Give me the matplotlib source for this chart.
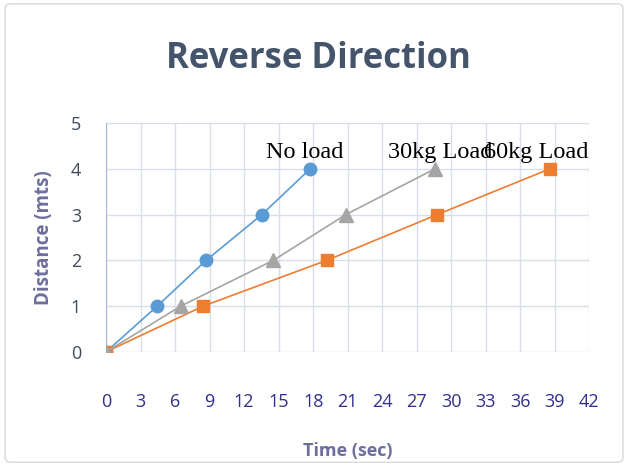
import numpy as np
import matplotlib
matplotlib.use("Agg")
from matplotlib import pyplot as plt
from matplotlib.patches import FancyBboxPatch

#-------------------------------------------------------------
# data
t_noload = [0, 4.45, 8.7, 13.55, 17.75]
d_noload = [0, 1, 2, 3, 4]
t_30kg = [0, 6.5, 14.55, 20.85, 28.6]
d_30kg = [0, 1, 2, 3, 4]
t_60kg = [0, 8.45, 19.2, 28.8, 38.6]
d_60kg = [0, 1, 2, 3, 4]

x_ticks = list(range(0, 43, 3))
y_ticks = [0, 1, 2, 3, 4, 5]

labels = ["No load", "30kg Load", "60kg Load"]
label_pos = [(13.9, 4.36), (24.5, 4.36), (32.9, 4.36)]

#-------------------------------------------------------------
fig = plt.figure(figsize=(6.28, 4.66), dpi=100)
fig.patches.append(FancyBboxPatch((0.008, 0.008), 0.984, 0.984,
                                  boxstyle="round,pad=0,rounding_size=0.01",
                                  transform=fig.transFigure, fill=False,
                                  edgecolor="#D9D9D9", linewidth=1))
ax = fig.add_axes([0.169, 0.245, 0.769, 0.491])

ax.plot(t_noload, d_noload, color="#5B9BD5", marker="o", markersize=9, lw=1.2, zorder=2)
ax.plot(t_60kg, d_60kg, color="#ED7D31", marker="s", markersize=9, lw=1.2, zorder=3)
ax.plot(t_30kg, d_30kg, color="#A5A5A5", marker="^", markersize=10, lw=1.2, zorder=4)

for txt, (x, y) in zip(labels, label_pos):
    ax.text(x, y, txt, fontsize=17.5, family="Liberation Serif", va="center", ha="left",
            zorder=5)

ax.set_xlim(0, 42)
ax.set_ylim(0, 5)
ax.set_xticks(x_ticks)
ax.set_yticks(y_ticks)
ax.grid(True, color="#D9DEE8", lw=1)
ax.set_axisbelow(True)
for s in ["top", "right", "bottom"]:
    ax.spines[s].set_visible(False)
ax.spines["left"].set_color("#A9B8CF")
ax.tick_params(length=0)
ax.tick_params(axis="x", pad=30, labelsize=13, labelcolor="#2F2F8C")
ax.tick_params(axis="y", pad=18, labelsize=13, labelcolor="#404A5C")
for lab in ax.get_xticklabels() + ax.get_yticklabels():
    lab.set_family("Open Sans")

ax.set_xlabel("Time (sec)", family="Open Sans", fontweight="bold", fontsize=13,
              color="#6E6E9E", labelpad=22)
ax.set_ylabel("Distance (mts)", family="Open Sans", fontweight="bold", fontsize=13.5,
              color="#6E6E9E", labelpad=12)

fig.text(0.507, 0.874, "Reverse Direction", family="Open Sans", fontweight="bold",
         fontsize=25, color="#44546A", ha="center", va="center")

fig.savefig("out.png", dpi=100)
